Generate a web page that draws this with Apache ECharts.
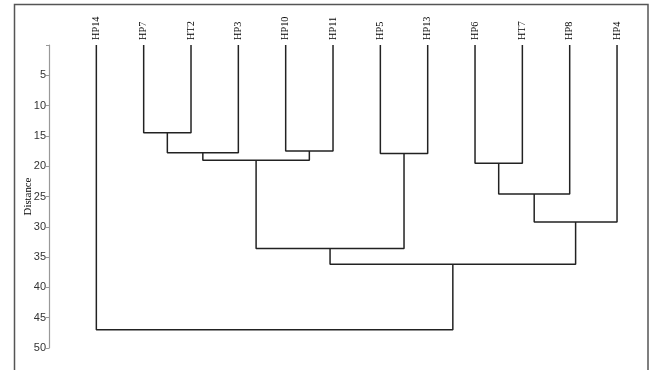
<!DOCTYPE html>
<html><head><meta charset="utf-8">
<script src="https://cdn.jsdelivr.net/npm/echarts@6/dist/echarts.min.js"></script>
<style>html,body{margin:0;padding:0;background:#fff}#c{width:656px;height:370px}</style>
</head><body><div id="c"></div>
<script>
// Leaves in display order
const leaves = ['HP14','HP7','HT2','HP3','HP10','HP11','HP5','HP13','HP6','HT7','HP8','HP4'];
// Merges: children (leaf name or merge id) and joining distance
const mergeLeft   = ['HP7','m0','HP10','m1','HP5','m3','HP6','m6','m7','m5','HP14'];
const mergeRight  = ['HT2','HP3','HP11','m2','HP13','m4','HT7','HP8','HP4','m8','m9'];
const mergeHeight = [14.5, 17.8, 17.5, 19.0, 17.9, 33.6, 19.5, 24.6, 29.2, 36.2, 47.0];
const yTicks = [0,5,10,15,20,25,30,35,40,45,50];

const pos = {};
leaves.forEach((n,i)=>{pos[n]={x:i,h:0};});
const series = [];
mergeHeight.forEach((h,i)=>{
  const a = pos[mergeLeft[i]], b = pos[mergeRight[i]];
  pos['m'+i] = {x:(a.x+b.x)/2, h:h};
  series.push({
    type:'line', symbol:'none', silent:true, animation:false,
    lineStyle:{color:'#222', width:1.5},
    data:[[a.x,a.h],[a.x,h],[b.x,h],[b.x,b.h]]
  });
});

const chart = echarts.init(document.getElementById('c'), null, {renderer:'canvas'});
chart.setOption({
  animation:false,
  backgroundColor:'#fff',
  graphic:[{type:'rect', z:-1, shape:{x:14.5,y:4.5,width:633.5,height:420},
    style:{fill:'none', stroke:'#555', lineWidth:1.5}}],
  grid:{left:49, right:15.3, top:45, bottom:22},
  xAxis:{type:'value', position:'top', min:-1, max:11.5, interval:1,
    axisLine:{show:false, onZero:false}, axisTick:{show:false}, splitLine:{show:false},
    axisLabel:{rotate:-90, margin:5, fontFamily:'Liberation Serif', fontSize:10.3, color:'#000',
      showMaxLabel:false, showMinLabel:false,
      formatter:v=> (Number.isInteger(v) && v>=0 && v<leaves.length) ? leaves[v] : ''}},
  yAxis:{type:'value', inverse:true, min:yTicks[0], max:yTicks[yTicks.length-1], interval:5,
    name:'Distance', nameLocation:'middle', nameRotate:90, nameGap:15, nameMoveOverlap:false,
    nameTextStyle:{fontFamily:'Liberation Serif', fontSize:10.8, color:'#000'},
    axisLine:{show:true, onZero:false, lineStyle:{color:'#999', width:1.2}},
    axisTick:{show:true, length:3, lineStyle:{color:'#999'}},
    splitLine:{show:false},
    axisLabel:{margin:3, fontFamily:'Liberation Sans', fontSize:11, color:'#333',
      formatter:v=> v===0 ? '' : String(v)}},
  series:series
});
</script></body></html>
